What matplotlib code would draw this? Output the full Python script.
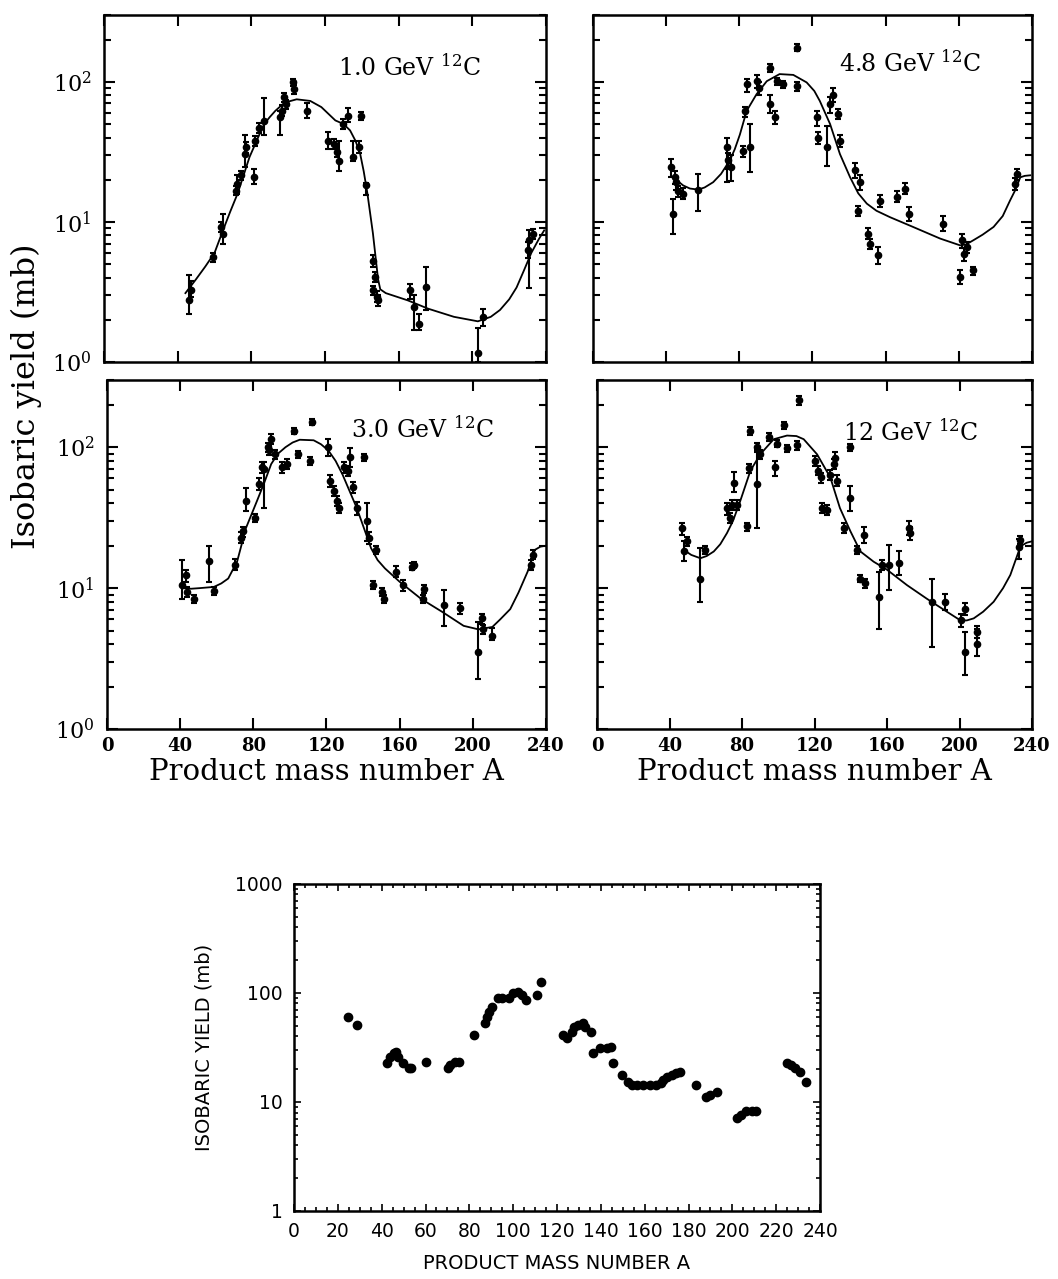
import matplotlib
matplotlib.use('Agg')
import matplotlib.pyplot as plt
import numpy as np
from matplotlib.ticker import LogLocator, LogFormatterMathtext, NullFormatter, MultipleLocator

plt.rcParams['font.family'] = 'DejaVu Serif'
plt.rcParams['mathtext.fontset'] = 'dejavuserif'

# ---- 1.0 GeV 12C ----
a1 = [46.3, 47.0, 59.0, 64.7, 63.7, 72.4, 71.5, 74.4, 76.3, 77.3, 81.5, 82.0, 84.0, 87.0, 95.7,
      96.7, 97.6, 98.6, 102.5, 103.4, 110.0, 121.8, 124.7, 126.7, 127.6, 129.6, 132.5, 139.3, 135.4,
      138.3, 142.2, 146.0, 147.0, 146.0, 148.0, 149.0, 166.4, 168.3, 171.0, 175.0, 203.0, 206.0,
      230.0, 231.0, 233.0]
y1 = [2.76, 3.25, 5.6, 8.2, 9.2, 18.7, 16.7, 21.5, 30.5, 34, 20.9, 38, 47, 52.6, 55.7,
      62, 77.5, 69, 99, 88.7, 62, 38, 36, 31.4, 27.4, 50, 57, 57, 29,
      34, 18.2, 5.3, 4.05, 3.25, 2.92, 2.76, 3.25, 2.48, 1.88, 3.44, 1.15, 2.1,
      6.3, 7.4, 8.2]
lo1 = [2.2, 2.9, 5.2, 7.0, 8.5, 15.9, 15.5, 20, 24.5, 31, 18.5, 35, 43, 42, 42,
       57, 72, 64, 94, 82, 55, 33, 33, 29, 23, 46, 52, 53, 27,
       31, 15.5, 4.8, 3.7, 3.0, 2.7, 2.5, 2.8, 1.7, 1.7, 2.34, 1.0, 1.8,
       5.5, 3.4, 7.5]
hi1 = [4.2, 3.8, 6.0, 11.4, 10, 21.5, 18, 23, 42, 37, 24, 41, 51, 77, 62,
       68, 83, 74, 104, 95, 70, 44, 39, 34, 38, 54, 65, 61, 38,
       38, 19, 5.8, 4.4, 3.5, 3.2, 3.0, 3.6, 3.0, 2.2, 4.76, 1.75, 2.4,
       7.2, 8.8, 8.9]
c1a = [44.2, 50, 55, 60, 64.6, 68.5, 72.6, 79, 84, 87, 90, 93, 98, 104.6, 112, 118, 125.6,
       130, 133.6, 136.5, 139, 141, 143, 146, 148.8, 150, 153, 165, 176, 190, 203, 210, 215,
       220, 224, 228, 232, 236, 239]
c1y = [3.1, 3.9, 4.8, 6.0, 8.7, 11.8, 16, 29, 41, 50, 56, 62, 71, 75, 73, 66, 53,
       50, 45, 38, 31, 23, 16, 8.3, 3.9, 3.3, 3.1, 2.75, 2.4, 2.1, 1.95, 2.1, 2.35,
       2.8, 3.4, 4.5, 6, 7.5, 8.7]

# ---- 4.8 GeV 12C ----
a2 = [42.9, 44.7, 45.6, 46.5, 43.8, 49.3, 57.5, 73.0, 74.0, 75.7, 82.0, 85.8, 83.0, 84.0, 89.4,
      91.0, 96.7, 99.5, 96.7, 100.4, 104.0, 111.3, 111.3, 122.3, 123.0, 127.8, 129.6, 131.4, 134.0,
      135.0, 143.0, 146.0, 145.0, 150.6, 151.5, 156.0, 157.0, 166.0, 170.6, 172.5, 191.6, 201.7,
      202.6, 204.4, 200.7, 208.0, 231.8, 230.9]
y2 = [24.6, 20.8, 19.2, 16.5, 11.4, 15.9, 16.8, 34, 27.5, 24.6, 32, 34, 62, 96, 101,
      91, 69, 55.7, 126, 101, 96, 175, 94, 55.7, 40, 34, 69, 81, 59,
      38, 23.3, 19.2, 12.0, 8.2, 7.0, 5.8, 14.2, 15.1, 17.2, 11.4, 9.7, 7.4,
      5.9, 6.6, 4.05, 4.5, 22, 18.7]
lo2 = [21, 18.5, 17, 15, 8.2, 14.5, 12, 19.2, 24, 19.5, 29, 22.6, 56, 85, 90,
       80, 60, 50, 118, 95, 90, 165, 86, 48, 36, 25, 60, 72, 54,
       34, 20.5, 17, 11, 7.5, 6.4, 5.0, 12.8, 13.8, 15.8, 10.2, 8.6, 6.5,
       5.3, 6.0, 3.6, 4.2, 20, 17]
hi2 = [28, 23, 21, 18, 14.6, 17.5, 22, 40, 31, 30, 35, 50, 66, 105, 112,
       100, 80, 62, 134, 107, 102, 185, 100, 62, 44, 48, 78, 90, 64,
       42, 26.5, 21.5, 13, 9, 7.6, 6.6, 15.6, 16.5, 18.8, 12.8, 11.0, 8.2,
       6.5, 7.2, 4.5, 4.8, 24, 20.5]
c2a = [43.8, 49.3, 53, 57.5, 61, 65.7, 70, 74.8, 77.5, 80.3, 84, 89.4, 95, 102, 109.5, 116.8,
       121, 124, 129.6, 135, 140.5, 145, 149.7, 155, 162.4, 175, 189.8, 200.7, 204, 208, 213,
       219, 224, 228, 231, 233.6, 236, 239]
c2y = [20.8, 18.2, 17.3, 17, 17.6, 19.2, 22, 27.5, 33, 42, 62, 81.5, 101, 113.5, 112, 99,
       86, 73, 50, 30.5, 20.9, 16, 13.5, 12, 10.8, 9.2, 7.6, 6.8, 6.9, 7.4, 8.1,
       9.2, 11, 14.2, 17, 20.8, 21.3, 21.5]

# ---- 3.0 GeV 12C ----
a3 = [41.0, 43.0, 44.0, 47.8, 55.6, 58.5, 70.2, 73.2, 74.2, 76.0, 81.0, 83.0, 84.9, 85.9, 87.8,
      88.8, 89.8, 91.7, 95.6, 98.5, 102.4, 104.4, 111.0, 112.0, 121.0, 122.0, 124.0, 126.0, 127.0,
      129.7, 131.7, 132.7, 140.5, 134.6, 136.6, 142.4, 143.4, 147.3, 145.3, 150.2, 151.2, 158.0,
      162.0, 167.8, 166.8, 173.6, 172.7, 184.4, 193.0, 203.0, 205.0, 205.5, 210.7, 232.0, 233.0]
y3 = [10.5, 12.4, 9.4, 8.4, 15.5, 9.6, 14.6, 22.7, 25.3, 41.5, 31.5, 54.6, 72, 70, 100,
      95, 114, 89, 72, 76, 131, 89, 80, 151, 100, 57.6, 49, 41.5, 37,
      72, 68, 85, 85, 52, 37, 29.8, 22.7, 18.7, 10.5, 9.4, 8.4, 13.1,
      10.5, 14.6, 14.2, 9.9, 8.4, 7.55, 7.2, 3.5, 6.1, 5.1, 4.6, 14.6, 17.2]
lo3 = [8.4, 11, 8.6, 7.9, 11.1, 9.0, 13.4, 21, 23, 35, 29.5, 50, 66, 37, 92,
       88, 105, 83, 66, 70, 124, 84, 75, 143, 86, 52, 45, 38, 34,
       66, 62, 72, 80, 47, 33, 21.5, 20.5, 17.5, 9.8, 8.8, 7.8, 11.9,
       9.6, 13.9, 13.5, 9.2, 7.9, 5.4, 6.6, 2.26, 5.6, 4.7, 4.3, 13.5, 16]
hi3 = [15.8, 13.5, 10.2, 9, 19.8, 10.2, 16, 25, 27, 51, 33.5, 60, 78, 78, 108,
       102, 125, 95, 78, 82, 138, 94, 85, 159, 115, 63, 53, 45, 40,
       78, 74, 98, 90, 57, 41, 40, 25, 20, 11.2, 10, 9, 14.3,
       11.5, 15.3, 15, 10.6, 9, 9.7, 7.8, 5.75, 6.6, 5.5, 5.2, 15.8, 18.5]
c3a = [41, 46, 50.7, 58.5, 62.5, 66.3, 71.2, 76, 82, 86, 89.8, 93.5, 97.6, 101.5, 105.4, 113,
       117, 121, 125, 128.8, 136.6, 144.4, 148, 152, 160, 171.7, 183.4, 195, 203, 210.7, 215,
       220.5, 225, 230, 234, 237, 240]
c3y = [10, 9.9, 10, 10.2, 10.8, 11.7, 15.5, 26.7, 41.5, 56, 76, 90, 100, 108, 113, 112,
       105, 95, 80, 64, 37, 19.2, 15.8, 13.8, 11.1, 8.4, 6.77, 5.4, 5.1, 5.3, 6,
       7.1, 9.3, 13.1, 18.7, 19.7, 20]

# ---- 12 GeV 12C ----
a4 = [46.9, 47.8, 49.7, 57.0, 59.8, 71.7, 73.6, 74.5, 75.4, 77.2, 82.8, 83.7, 84.6, 88.3, 88.3,
      90.0, 94.7, 98.4, 99.3, 103.0, 104.8, 110.3, 111.3, 120.5, 121.7, 123.5, 124.0, 126.8, 128.7,
      130.6, 132.4, 131.5, 139.8, 139.8, 136.0, 143.4, 147.1, 145.3, 148.0, 155.4, 157.2, 160.9,
      166.4, 171.9, 172.8, 184.8, 192.0, 201.0, 203.2, 203.2, 209.7, 209.7, 232.6, 233.5]
y4 = [26.7, 18.2, 21.5, 11.7, 18.7, 37, 31.5, 39, 56, 39, 27.4, 71, 131, 54.6, 100,
      89, 118, 72, 106, 143, 98, 103, 216, 80, 68, 61, 37, 36, 64,
      76, 58, 84, 43.9, 100, 26.7, 18.7, 24, 11.7, 10.8, 8.7, 14.6, 14.6,
      15, 26.7, 24.6, 8.0, 8.0, 5.9, 7.1, 3.5, 4.9, 4.0, 19.7, 22]
lo4 = [24, 15.5, 20, 8.0, 17.5, 33, 29, 36, 48, 36, 25.5, 66, 122, 26.7, 92,
       83, 110, 62, 100, 134, 92, 96, 200, 74, 63, 56, 34, 33, 59,
       70, 53, 76, 35, 94, 24.5, 17.5, 21, 11, 10, 5.1, 13.5, 9.7,
       12.4, 24, 22, 3.8, 7.0, 5.3, 6.4, 2.4, 4.4, 3.3, 16, 20.5]
hi4 = [29, 21.5, 23, 19.2, 20, 40, 34, 42, 67, 42, 29, 76, 140, 95, 108,
       95, 126, 80, 112, 152, 104, 110, 232, 86, 73, 66, 40, 39, 69,
       82, 63, 92, 53, 106, 29, 20, 27, 12.4, 11.6, 13.1, 15.8, 20.3,
       18.2, 30, 27, 11.7, 9.1, 6.5, 7.8, 4.9, 5.4, 5.1, 22.5, 23.5]
c4a = [47.8, 52, 57, 60.5, 64.4, 68, 71.7, 75, 79, 84.6, 90, 97.5, 104.8, 110, 114, 121.4,
       128.7, 134, 139.8, 145.3, 152.6, 160, 171, 182, 193, 200.5, 204, 207.8, 213, 218.8,
       224, 228, 233.6, 237, 240]
c4y = [18.7, 17.2, 16.3, 16.9, 18.2, 20.5, 24.6, 30, 41.5, 68, 89, 114, 121, 120, 114, 89,
       61, 37, 25.3, 18.2, 15.4, 13.5, 10.5, 8.4, 6.8, 5.9, 5.9, 6.1, 6.8, 8,
       10, 12.4, 19.8, 21, 21.5]

# ---- lower plot ----
a5 = [24.8, 28.7, 42.6, 43.6, 45.5, 46.5, 47.5, 49.5, 52.5, 53.5, 60.4, 70.3, 71.3, 73.3, 75.2,
      82.2, 87.1, 88.1, 89.1, 90.1, 93.0, 95.0, 98.0, 100.0, 102.0, 104.0, 106.0, 110.9, 112.9,
      122.8, 124.7, 126.7, 127.7, 129.7, 131.7, 132.7, 135.6, 136.6, 139.6, 142.6, 144.5, 145.5,
      149.5, 152.5, 154.4, 156.4, 159.4, 162.4, 165.3, 167.3, 168.3, 170.3, 172.3, 174.2, 176.2,
      183.2, 188.1, 190.0, 193.0, 202.0, 204.0, 206.0, 209.0, 210.9, 224.7, 226.7, 228.7, 230.7, 233.6]
y5 = [60.7, 50.9, 22.6, 26, 28, 29, 26, 22.6, 20.4, 20.4, 23.4, 20.4, 21.8, 23.4, 23.4,
      41.2, 52.7, 60.7, 67.4, 75, 89, 89, 89, 99, 103, 96, 86, 96, 127,
      41.2, 38.4, 44.2, 49, 50.8, 52.6, 49, 44.2, 28, 31, 31, 32.2, 22.6,
      17.7, 15.4, 14.3, 14.3, 14.3, 14.3, 14.3, 14.8, 15.9, 17.1, 17.7, 18.3, 19,
      14.3, 11.2, 11.6, 12.4, 7.1, 7.6, 8.2, 8.2, 8.2, 22.6, 21.8, 20.4, 19, 15.4]

labels = ['1.0 GeV $^{12}$C', '4.8 GeV $^{12}$C', '3.0 GeV $^{12}$C', '12 GeV $^{12}$C']

fig = plt.figure(figsize=(10.58, 12.79), dpi=100)

boxes = [[0.0983, 0.7170, 0.4178, 0.2713],
         [0.5605, 0.7170, 0.4149, 0.2713],
         [0.1011, 0.4300, 0.4149, 0.2729],
         [0.5643, 0.4300, 0.4112, 0.2729]]
label_pos = [(0.53, 0.85), (0.56, 0.86), (0.556, 0.86), (0.566, 0.85)]
sets = [(a1, y1, lo1, hi1, c1a, c1y),
        (a2, y2, lo2, hi2, c2a, c2y),
        (a3, y3, lo3, hi3, c3a, c3y),
        (a4, y4, lo4, hi4, c4a, c4y)]

for i, (a, y, lo, hi, ca, cy) in enumerate(sets):
    ax = fig.add_axes(boxes[i])
    y = np.array(y)
    err = [y - np.array(lo), np.array(hi) - y]
    ax.plot(ca, cy, color='k', lw=1.3)
    ax.errorbar(a, y, yerr=err, fmt='o', color='k', ms=4.5, elinewidth=1.5,
                capsize=2, capthick=1.5)
    ax.set_yscale('log')
    ax.set_xlim(0, 240)
    ax.set_ylim(1, 300)
    ax.set_xticks([0, 40, 80, 120, 160, 200, 240])
    ax.yaxis.set_major_locator(LogLocator(base=10))
    ax.yaxis.set_minor_locator(LogLocator(base=10, subs=np.arange(2, 10)))
    ax.yaxis.set_minor_formatter(NullFormatter())
    ax.yaxis.set_major_formatter(LogFormatterMathtext())
    ax.tick_params(which='both', direction='in', top=True, right=True, width=1.5)
    ax.tick_params(which='major', length=8)
    ax.tick_params(which='minor', length=5)
    ax.tick_params(axis='x', labelsize=13, pad=6)
    ax.tick_params(axis='y', labelsize=16, pad=9)
    for lab in ax.get_xticklabels():
        lab.set_fontweight('bold')
    for s in ax.spines.values():
        s.set_linewidth(1.8)
    if i < 2:
        ax.tick_params(axis='x', labelbottom=False)
    else:
        ax.set_xlabel('Product mass number A', fontsize=21, labelpad=2)
    if i % 2 == 1:
        ax.tick_params(axis='y', labelleft=False)
    ax.text(label_pos[i][0], label_pos[i][1], labels[i], transform=ax.transAxes,
            fontsize=17, va='center', ha='left')

fig.text(0.025, 0.690, 'Isobaric yield (mb)', rotation=90, va='center', ha='center', fontsize=23)

# lower plot
sans = 'DejaVu Sans'
ax5 = fig.add_axes([0.2779, 0.0532, 0.4972, 0.2557])
ax5.plot(a5, y5, 'o', color='k', ms=6)
ax5.set_yscale('log')
ax5.set_xlim(0, 240)
ax5.set_ylim(1, 1000)
ax5.set_xticks(np.arange(0, 241, 20), labels=[str(v) for v in range(0, 241, 20)],
               fontfamily=sans, fontsize=13.5)
ax5.xaxis.set_minor_locator(MultipleLocator(5))
ax5.set_yticks([1, 10, 100, 1000], labels=['1', '10', '100', '1000'],
               fontfamily=sans, fontsize=13.5)
ax5.yaxis.set_minor_locator(LogLocator(base=10, subs=np.arange(2, 10)))
ax5.yaxis.set_minor_formatter(NullFormatter())
ax5.tick_params(which='both', direction='in', top=True, right=True, width=1.2)
ax5.tick_params(which='major', length=5, pad=8)
ax5.tick_params(which='minor', length=3)
for s in ax5.spines.values():
    s.set_linewidth(1.8)
ax5.set_xlabel('PRODUCT MASS NUMBER A', fontfamily=sans, fontsize=14, labelpad=9)
ax5.set_ylabel('ISOBARIC YIELD (mb)', fontfamily=sans, fontsize=14, labelpad=16)

fig.savefig('out.png', dpi=100)
